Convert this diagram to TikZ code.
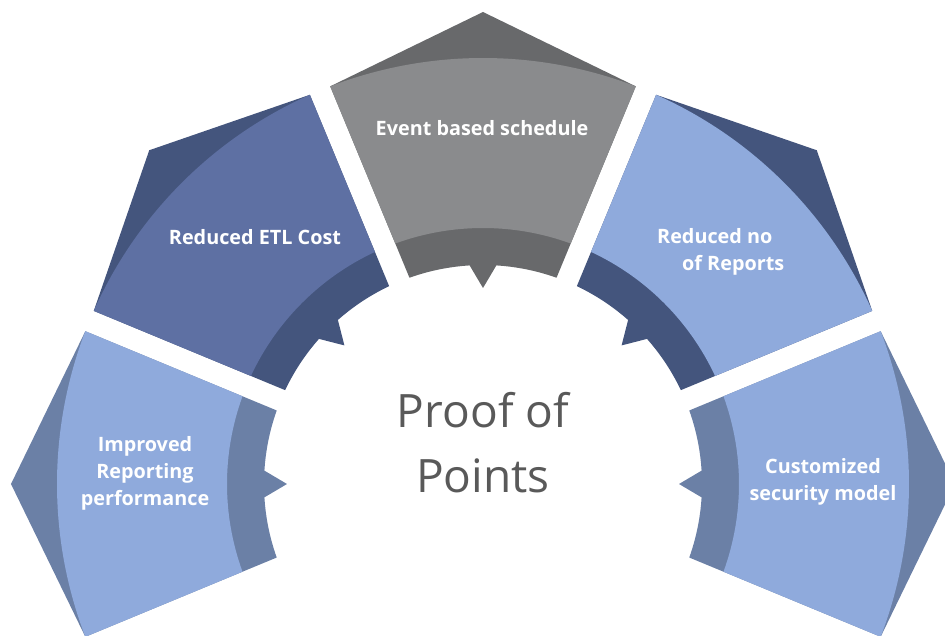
\documentclass[tikz,border=0pt]{standalone}
\usepackage{fontspec}
\setmainfont{Open Sans}
\definecolor{lightseg}{HTML}{8FAADC}
\definecolor{softband}{HTML}{6B80A6}
\definecolor{etlmain}{HTML}{5E70A3}
\definecolor{deepband}{HTML}{44557D}
\definecolor{graymain}{HTML}{8A8B8D}
\definecolor{grayband}{HTML}{68696B}
\definecolor{titlegray}{HTML}{595959}

\tikzset{
  seglabel/.style={text=white, inner sep=0pt, align=center,
    font=\bfseries\fontsize{19.8}{27}\selectfont},
  titletext/.style={text=titlegray, anchor=base,
    font=\fontsize{46}{65}\selectfont}
}

\begin{document}
\begin{tikzpicture}[x=1pt,y=1pt]
 \clip (-483,-151) rectangle (462,484);
 % five pointed segments round the centre: axis angle / main colour / band colour
 \foreach \a/\main/\band in {180/lightseg/softband, 135/etlmain/deepband,
   90/graymain/grayband, 45/lightseg/deepband, 0/lightseg/softband} {
   \pgfmathsetmacro{\pin}{22.5-asin(11/219)}
   \pgfmathsetmacro{\pout}{22.5-asin(11/426)}
   \pgfmathsetmacro{\pband}{22.5-asin(11/256)}
   \fill[\band] (\a+\pin:219) -- (\a+\pout:426) -- (\a:472) -- (\a-\pout:426)
     -- (\a-\pin:219) arc[start angle=\a-\pin, end angle=\a-3.5, radius=219]
     -- (\a:196) -- (\a+3.5:219)
     arc[start angle=\a+3.5, end angle=\a+\pin, radius=219] -- cycle;
   \fill[\main] (\a+\pband:256) -- (\a+\pout:426)
     arc[start angle=\a+\pout, end angle=\a-\pout, radius=426]
     -- (\a-\pband:256)
     arc[start angle=\a-\pband, end angle=\a+\pband, radius=256] -- cycle;
 }
 \node[seglabel] (improved) at (-338,11) {Improved\\Reporting\\performance};
 \node[seglabel] (etl) at (-228,247) {Reduced ETL Cost};
 \node[seglabel] (event) at (-1,356) {Event based schedule};
 \node[seglabel, align=left, anchor=west] (reports) at (174,232)
   {Reduced no\\\hspace*{25pt}of Reports};
 \node[seglabel] (security) at (340,2) {Customized\\security model};
 \node[titletext] (proof) at (0,57) {Proof of};
 \node[titletext] (points) at (0,-8) {Points};
\end{tikzpicture}
\end{document}
